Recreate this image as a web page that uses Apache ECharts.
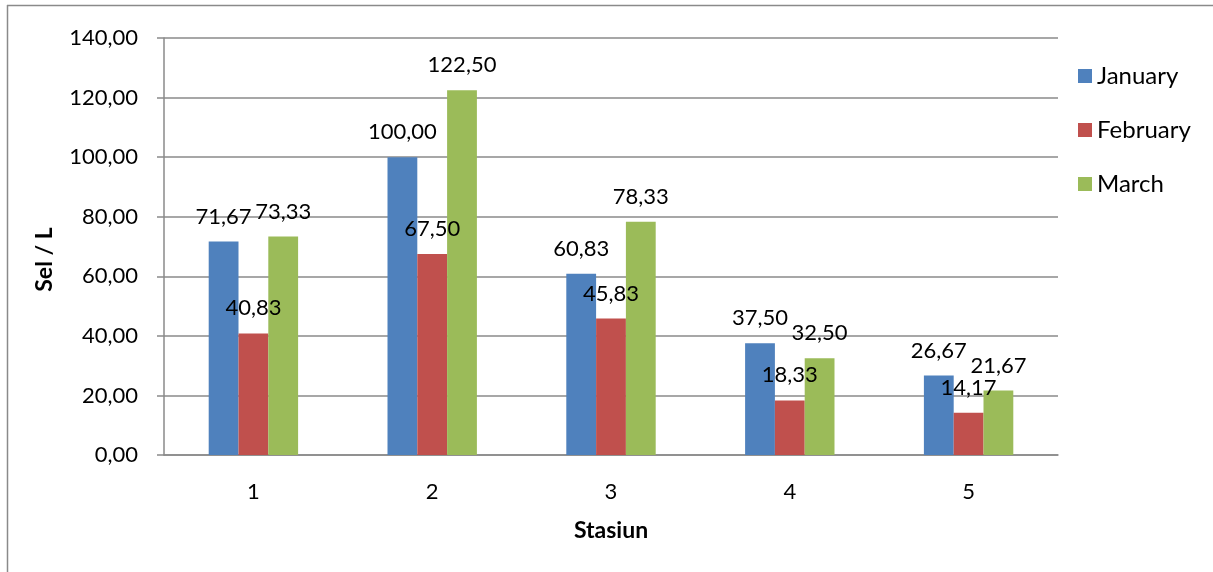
<!DOCTYPE html>
<html>
<head>
<meta charset="utf-8">
<script src="https://cdn.jsdelivr.net/npm/echarts@6/dist/echarts.min.js"></script>
<style>html,body{margin:0;padding:0;background:#fff;}#c{width:1213px;height:572px;}</style>
</head>
<body>
<div id="c"></div>
<script>
var categories = ['1', '2', '3', '4', '5'];
var seriesNames = ['January', 'February', 'March'];
var january = [71.67, 100.00, 60.83, 37.50, 26.67];
var february = [40.83, 67.50, 45.83, 18.33, 14.17];
var march = [73.33, 122.50, 78.33, 32.50, 21.67];
var yTicks = [0, 20, 40, 60, 80, 100, 120, 140];

var FONT = 'Lato, "Open Sans", sans-serif';
var colors = ['#4F81BD', '#C0504D', '#9BBB59'];
function fmt(v) { return Number(v).toFixed(2).replace('.', ','); }

var chart = echarts.init(document.getElementById('c'), null, {renderer: 'canvas'});
function mk(name, data, color) {
  return {
    name: name, type: 'bar', data: data, barGap: '0%', barCategoryGap: '50%',
    itemStyle: {color: color},
    label: {show: true, position: 'top', distance: 14, color: '#000', fontFamily: FONT, fontSize: 22,
      formatter: function (p) { return fmt(p.value); }}
  };
}
chart.setOption({
  animation: false,
  backgroundColor: '#fff',
  textStyle: {fontFamily: FONT},
  graphic: [
    {type: 'line', shape: {x1: 7, y1: 5.5, x2: 1213, y2: 5.5}, style: {stroke: '#8a8a8a', lineWidth: 1.5}},
    {type: 'line', shape: {x1: 7.5, y1: 5, x2: 7.5, y2: 572}, style: {stroke: '#8a8a8a', lineWidth: 1.5}}
  ],
  grid: {left: 164, right: 155, top: 38, bottom: 117},
  legend: {
    orient: 'vertical', left: 1073, top: 59, itemWidth: 14, itemHeight: 14, itemGap: 30,
    icon: 'rect', data: seriesNames,
    textStyle: {fontFamily: FONT, fontSize: 24, color: '#000'}
  },
  xAxis: {
    type: 'category', data: categories,
    name: 'Stasiun', nameLocation: 'middle', nameGap: 64,
    nameTextStyle: {fontFamily: FONT, fontSize: 23, fontWeight: 'bold', color: '#000'},
    axisLine: {lineStyle: {color: '#8a8a8a', width: 1.5}},
    axisTick: {show: false},
    axisLabel: {margin: 26, fontFamily: FONT, fontSize: 22, color: '#000'}
  },
  yAxis: {
    type: 'value', min: 0, max: 140, interval: 20,
    name: 'Sel / L', nameLocation: 'middle', nameGap: 108, nameRotate: 90,
    nameTextStyle: {fontFamily: FONT, fontSize: 23, fontWeight: 'bold', color: '#000', padding: [0, 26, 0, 0]},
    axisLine: {show: true, lineStyle: {color: '#8a8a8a', width: 1.5}},
    axisTick: {show: true, inside: false, length: 7, lineStyle: {color: '#8a8a8a', width: 1.5}},
    splitLine: {lineStyle: {color: '#8a8a8a', width: 1.5}},
    axisLabel: {margin: 26, fontFamily: FONT, fontSize: 22, color: '#000',
      formatter: function (v) { return yTicks.indexOf(v) >= 0 ? fmt(v) : ''; }}
  },
  series: [mk(seriesNames[0], january, colors[0]), mk(seriesNames[1], february, colors[1]), mk(seriesNames[2], march, colors[2])]
});
</script>
</body>
</html>
